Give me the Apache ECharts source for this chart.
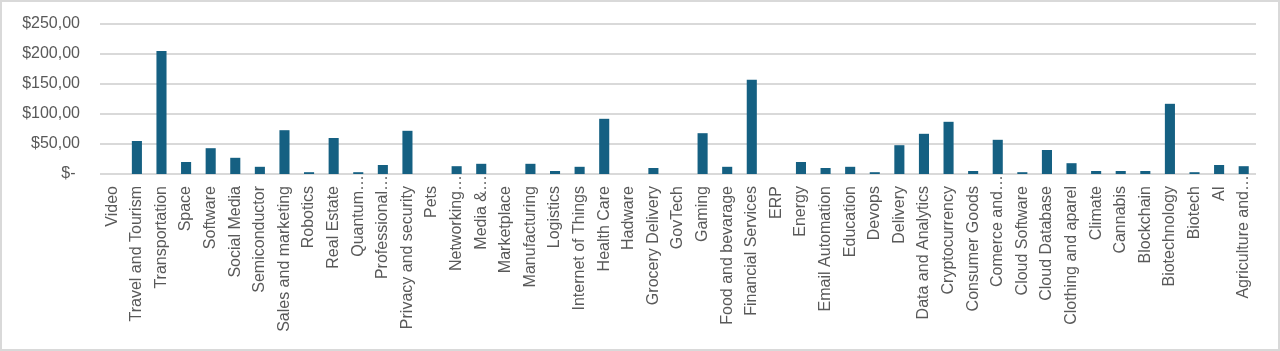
<!DOCTYPE html>
<html>
<head>
<meta charset="utf-8">
<script src="https://cdn.jsdelivr.net/npm/echarts@6/dist/echarts.min.js"></script>
<style>
  html, body { margin: 0; padding: 0; background: #fff; }
  #chart { width: 1280px; height: 351px; box-sizing: border-box; border: 2px solid #d9d9d9; }
</style>
</head>
<body>
<div id="chart"></div>
<script>
// categories as they show on the axis (Excel cut the long ones)
const categories = [
  'Video', 'Travel and Tourism', 'Transportation', 'Space', 'Software', 'Social Media',
  'Semiconductor', 'Sales and marketing', 'Robotics', 'Real Estate', 'Quantum…',
  'Professional…', 'Privacy and security', 'Pets', 'Networking…', 'Media &…',
  'Marketplace', 'Manufacturing', 'Logistics', 'Internet of Things', 'Health Care',
  'Hadware', 'Grocery Delivery', 'GovTech', 'Gaming', 'Food and bevarage',
  'Financial Services', 'ERP', 'Energy', 'Email Automation', 'Education', 'Devops',
  'Delivery', 'Data and Analytics', 'Cryptocurrency', 'Consumer Goods', 'Comerce and…',
  'Cloud Software', 'Cloud Database', 'Clothing and aparel', 'Climate', 'Cannabis',
  'Blockchain', 'Biotechnology', 'Biotech', 'AI', 'Agriculture and…'
];
const values = [
  0, 55, 205, 20, 43, 27,
  12, 73, 3, 60, 3,
  15, 72, 0, 13, 17,
  0, 17, 5, 12, 92,
  0, 10, 0, 68, 12,
  157, 0, 20, 10, 12, 3,
  48, 67, 87, 5, 57,
  3, 40, 18, 5, 5,
  5, 117, 3, 15, 13
];
const yTicks = [0, 50, 100, 150, 200, 250];

const myChart = echarts.init(document.getElementById('chart'));
const font = '"Liberation Sans", Arial, sans-serif';

const option = {
  animation: false,
  backgroundColor: '#fff',
  grid: { left: 98, right: 22, top: 22, bottom: 175 },
  xAxis: {
    type: 'category',
    data: categories,
    axisLine: { show: false },
    axisTick: { show: false },
    axisLabel: {
      interval: 0,
      rotate: 90,
      margin: 1,
      fontSize: 16,
      fontFamily: font,
      color: '#595959',
      formatter: function (v) {
        // cut labels sit right against the axis, the rest leave a gap
        return v.endsWith('…') ? '{t|' + v + '}' : '{n|' + v + '}';
      },
      rich: {
        n: { fontSize: 16, fontFamily: font, color: '#595959', padding: [0, 11, 0, 0] },
        t: { fontSize: 16, fontFamily: font, color: '#595959', padding: [0, 0, 0, 0] }
      }
    }
  },
  yAxis: {
    type: 'value',
    min: yTicks[0],
    max: yTicks[yTicks.length - 1],
    interval: 50,
    axisLine: { show: false },
    axisTick: { show: false },
    axisLabel: {
      margin: 20,
      fontSize: 16,
      fontFamily: font,
      color: '#595959',
      formatter: function (v) {
        return v === 0 ? '$- ' : '$' + v + ',00';
      }
    },
    splitLine: { lineStyle: { color: '#d9d9d9', width: 2 } }
  },
  series: [{
    type: 'bar',
    data: values,
    barWidth: '41%',
    itemStyle: { color: '#156082' }
  }]
};
myChart.setOption(option);
window.onresize = function () {
  myChart.resize();
};
</script>
</body>
</html>
